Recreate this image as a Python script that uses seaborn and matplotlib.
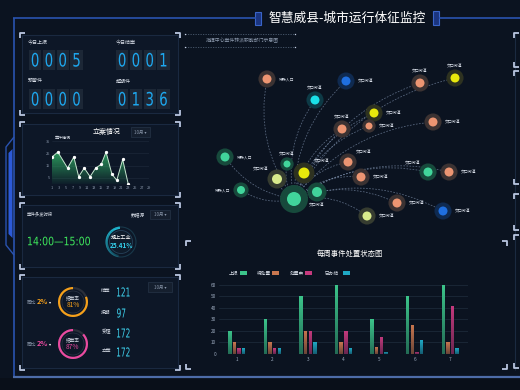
import numpy as np
import pandas as pd
import matplotlib
matplotlib.use("Agg")
import matplotlib.pyplot as plt
import seaborn as sns
from matplotlib.patches import Rectangle, Wedge, Circle, PathPatch, Polygon
from matplotlib.path import Path
from matplotlib.textpath import TextPath
from matplotlib.font_manager import FontProperties
from matplotlib.transforms import Affine2D
from matplotlib.colors import to_rgb

# ---------------- data ----------------
title = "智慧威县-城市运行体征监控"
kpi_labels = ["今日上报", "今日结案", "预警件", "超期件"]
kpi_values = ["0005", "0001", "0000", "0136"]

case_title = "立案情况"
case_series = "案件情况"
case_days = [1, 2.7, 5.5, 7.3, 8.7, 10.3, 12, 13.6, 15.2, 16.6, 18.3, 19.7, 21.4, 23]
case_counts = [22, 26, 13, 22, 6, 13, 6, 13, 16, 26, 8, 3, 20, 0]
case_xticks = list(range(1, 30, 2))
case_yticks = [5, 15, 25, 35]
month_label = "10月 ▾"

peak_title = "案件多发时段"
peak_period = "14:00—15:00"
source_label = "数据源"
industry_label = "规上工业"
industry_pct = "25.41%"
industry_arc_deg = 165

yoy_label = "同比"
yoy_values = ["2%", "2%"]
rate_label = "结案率"
rate_values = [81, 87]
count_labels = ["结案", "按期", "受理", "立案"]
count_values = [121, 97, 172, 172]

subtitle = "指挥中心案件转派职能部门示意图"
node_labels = ["", "特殊人口", "交口街道", "交口街道", "交口街道", "交口街道", "交口街道", "交口街道",
               "交口街道", "交口街道", "特殊人口", "交口街道", "交口街道", "交口街道", "交口街道", "特殊人口",
               "交口街道", "交口街道", "交口街道", "交口街道", "交口街道", "交口街道", "交口街道"]
node_x = [294, 267, 346, 315, 420, 455, 374, 369, 433, 342, 225, 287, 277, 304, 317, 241, 348, 361, 428, 449, 397, 443, 367]
node_y = [199, 79, 81, 100, 83, 78, 113, 126, 122, 129, 157, 164, 179, 173, 192, 190, 162, 177, 172, 172, 203, 211, 216]
node_kind = ["green", "orange", "blue", "cyan", "orange", "yellow", "yellow", "orange", "orange", "orange",
             "green", "green", "lime", "yellow", "green", "green", "orange", "orange", "green", "orange",
             "orange", "blue", "lime"]
node_r = [7, 4.5, 4.5, 4.5, 4.5, 4.5, 4.5, 3.5, 4.5, 4.5, 4.5, 3.5, 5, 5.5, 5, 4, 4.5, 4.5, 4.5, 4.5, 4.5, 4.5, 4.5]
node_pos = ["", "r", "r", "t", "t", "t", "r", "r", "r", "t", "r", "t", "tl", "tr", "b", "l",
            "tr", "r", "tl", "r", "r", "r", "r"]

bar_title = "每周事件处置状态图"
weeks = ["1", "2", "3", "4", "5", "6", "7"]
status_names = ["上报", "待处置", "处置中", "已办结"]
reported = [20, 30, 50, 60, 30, 50, 60]
pending = [10, 10, 20, 10, 6, 25, 10]
processing = [5, 5, 20, 20, 15, 2, 42]
closed = [5, 5, 10, 5, 2, 12, 5]
bar_yticks = [0, 10, 20, 30, 40, 50, 60]

# ---------------- style ----------------
W, H = 520, 390
BG = "#0b1320"
PANEL = "#0d1727"
PANEL_EDGE = "#1a2940"
BRACKET = "#b9c6e0"
FRAME = "#2a53b0"
TXT = "#d6dce6"
DIM = "#8a97ab"
bar_colors = ["#3cc48a", "#c8764f", "#c73a7e", "#1fa8c4"]
kind_core = {"green": "#41d59b", "orange": "#ec9572", "blue": "#1f6fe0",
             "cyan": "#1ae0e8", "yellow": "#e8e80c", "lime": "#d8ea8c"}
kind_halo = {"green": "#174a3c", "orange": "#3b3232", "blue": "#0f2a50",
             "cyan": "#0d3a46", "yellow": "#2e3220", "lime": "#363c30"}

sns.set_theme(style="dark")
plt.rcParams["font.family"] = ["Noto Sans CJK SC", "DejaVu Sans"]
plt.rcParams["axes.unicode_minus"] = False

fig = plt.figure(figsize=(W / 100, H / 100), dpi=100, facecolor=BG)
bg = fig.add_axes([0, 0, 1, 1])
bg.set_xlim(0, W)
bg.set_ylim(H, 0)
bg.axis("off")


def fpos(x0, y0, x1, y1):
    return [x0 / W, 1 - y1 / H, (x1 - x0) / W, (y1 - y0) / H]


def line(xs, ys, **kw):
    bg.plot(xs, ys, solid_capstyle="butt", **kw)


def brackets(x0, y0, x1, y1, L=5, color=BRACKET, lw=1.3, corners="tl tr bl br"):
    c = corners.split()
    if "tl" in c:
        line([x0, x0, x0 + L], [y0 + L, y0, y0], color=color, lw=lw)
    if "tr" in c:
        line([x1 - L, x1, x1], [y0, y0, y0 + L], color=color, lw=lw)
    if "bl" in c:
        line([x0, x0, x0 + L], [y1 - L, y1, y1], color=color, lw=lw)
    if "br" in c:
        line([x1 - L, x1, x1], [y1, y1, y1 - L], color=color, lw=lw)


def panel(x0, y0, x1, y1):
    bg.add_patch(Rectangle((x0 + 2, y0 + 2), x1 - x0 - 4, y1 - y0 - 4, fc=PANEL, ec=PANEL_EDGE, lw=0.8, zorder=0))
    brackets(x0, y0, x1, y1)


def narrow_text(x, y, s, h, sx=1.0, width=None, color="#1ea7ee", ha="left", family="DejaVu Sans", weight="normal"):
    fp = FontProperties(family=family, weight=weight)
    tp = TextPath((0, 0), s, size=10, prop=fp)
    ext = tp.get_extents()
    k = h / 7.3
    if width is not None:
        sx = width / (ext.width * k)
    w = ext.width * k * sx
    if ha == "center":
        x0 = x - w / 2
    elif ha == "right":
        x0 = x - w
    else:
        x0 = x
    x0 -= ext.x0 * k * sx
    tr = Affine2D().scale(k * sx, -k).translate(x0, y + h / 2)
    bg.add_patch(PathPatch(tr.transform_path(tp), fc=color, ec="none", lw=0, zorder=6))


def dropdown(x0, y0, x1, y1, text):
    bg.add_patch(Rectangle((x0, y0), x1 - x0, y1 - y0, fc="#151f2e", ec="#263448", lw=0.5, zorder=3))
    bg.text((x0 + x1) / 2, (y0 + y1) / 2, text, fontsize=3.2, color=DIM, ha="center", va="center", zorder=4)


# ---------------- outer frame ----------------
line([13, 256], [18, 18], color=FRAME, lw=1.2)
line([439, 520], [18, 18], color=FRAME, lw=1.2)
line([14, 14], [18, 377], color=FRAME, lw=1.2)
line([13, 520], [377, 377], color="#4d6ca8", lw=1.6)
bg.add_patch(Rectangle((0, 378), W, 12, fc="#090f19", ec="none", zorder=0))
bg.add_patch(Rectangle((255, 12), 6, 13, fc="#1b3580", ec="#3a64c8", lw=0.8))
bg.add_patch(Rectangle((433, 11), 6, 14, fc="#1b3580", ec="#3a64c8", lw=0.8))
bg.text(347, 18, title, fontsize=9.2, color="white", ha="center", va="center")
# left side decoration
line([14, 6, 6, 14], [137, 147, 245, 255], color=FRAME, lw=1.0)
bg.add_patch(Polygon([(8.5, 153), (12.5, 149), (12.5, 238), (8.5, 234)], closed=True, fc="#2c5ad8", ec="none"))
# right column
line([515, 515], [33, 370], color="#1b2a40", lw=0.8)
for (a, b) in [(33, 67), (71, 184), (194, 230), (235, 368)]:
    brackets(514, a, 540, b, L=5, corners="tl bl")

# ---------------- panel 1: KPI digits ----------------
panel(20, 33, 180, 115)
kpi_layout = [(28, 43, 29, 50), (116, 43, 116, 50), (28, 81, 29, 89), (116, 81, 116, 89)]
for lab, val, (lx, ly, bx, by) in zip(kpi_labels, kpi_values, kpi_layout):
    bg.text(lx, ly, lab, fontsize=3.6, color=TXT, ha="left", va="center")
    for i, ch in enumerate(val):
        x0 = bx + i * 13.8
        bg.add_patch(Rectangle((x0, by), 12.2, 19.5, fc="#1c2736", ec="none", zorder=3))
        narrow_text(x0 + 6.1, by + 9.75, ch, 13.5, sx=0.72, color="#1ea7ee", ha="center")

# ---------------- panel 2: area line ----------------
panel(20, 122, 180, 197)
bg.text(107, 132, case_title, fontsize=5.0, color="white", ha="center", va="center")
dropdown(131, 127, 150, 137, month_label)
bg.text(55, 137.5, case_series, fontsize=2.9, color=TXT, ha="left", va="center")
ax1 = fig.add_axes(fpos(52, 141, 149, 184))
ax1.set_facecolor("none")
sns.lineplot(x=case_days, y=case_counts, ax=ax1, color="#c6e6cf", lw=0.7, marker="o", markersize=1.6,
             markerfacecolor="white", markeredgecolor="white", zorder=4)
poly = ax1.fill_between(case_days, case_counts, 0, color="none", lw=0)
grad = np.zeros((256, 1, 4))
grad[..., :3] = to_rgb("#2fa862")
grad[..., 3] = np.linspace(0.9, 0.05, 256)[:, None]
im = ax1.imshow(grad, extent=[min(case_days), max(case_days), 0, max(case_counts)], aspect="auto",
                origin="upper", zorder=2)
im.set_clip_path(poly.get_paths()[0], transform=ax1.transData)
ax1.set_xlim(1, 29)
ax1.set_ylim(0, 35)
ax1.set_xticks(case_xticks)
ax1.set_yticks(case_yticks)
ax1.tick_params(labelsize=2.8, colors=DIM, length=0, pad=1.2)
ax1.grid(axis="y", color="#1f2c3d", lw=0.4)
ax1.grid(axis="x", visible=False)
for s in ax1.spines.values():
    s.set_visible(False)
ax1.axhline(0, color="#2f3e52", lw=0.6)
ax1.set_xlabel("")
ax1.set_ylabel("")

# ---------------- panel 3: peak period ----------------
panel(20, 203, 180, 269)
bg.text(27, 214, peak_title, fontsize=3.2, color=TXT, ha="left", va="center")
bg.text(138, 214.5, source_label, fontsize=3.4, color=TXT, ha="center", va="center")
dropdown(150, 210, 170, 219, month_label)
narrow_text(28, 241, peak_period, 8.5, width=62, color="#3ee65c", ha="left")
cx, cy = 121, 242
bg.add_patch(Circle((cx, cy), 15, fc="none", ec="#18384a", lw=0.8))
n_seg = 40
t_start, t_end = 265, 265 - industry_arc_deg
for i in range(n_seg):
    a0 = t_start + (t_end - t_start) * i / n_seg
    a1 = t_start + (t_end - t_start) * (i + 1) / n_seg
    bg.add_patch(Wedge((cx, cy), 15.5, min(a0, a1), max(a0, a1), width=2.4, fc="#22d6f0",
                       alpha=1.0 - 0.8 * i / n_seg, ec="none"))
bg.add_patch(Circle((cx, cy), 11.5, fc="#0f1c2b", ec="#26425a", lw=0.6))
bg.text(cx, cy - 4.5, industry_label, fontsize=3.7, color="white", ha="center", va="center")
bg.text(cx, cy + 3, industry_pct, fontsize=4.6, color="#35d2ee", ha="center", va="center", fontweight="bold")

# ---------------- panel 4: rates ----------------
panel(20, 275, 180, 370)
dropdown(148, 282, 172, 292, month_label)
ring_colors = ["#f5a01a", "#ea4aa0"]
ring_cy = [302, 344]
for yoy, rate, col, ry in zip(yoy_values, rate_values, ring_colors, ring_cy):
    bg.text(27, ry, yoy_label, fontsize=3.4, color=DIM, ha="left", va="center")
    bg.text(36.5, ry, yoy, fontsize=5.2, color=col, ha="left", va="center", fontweight="bold")
    bg.text(49, ry, "▾", fontsize=3, color="white", ha="left", va="center")
    rx = 73
    bg.add_patch(Wedge((rx, ry), 15, 0, 360, width=2.2, fc="#2a2f3a", ec="none"))
    bg.add_patch(Wedge((rx, ry), 15, -90 - rate / 100 * 360, -90, width=2.2, fc=col, ec="none"))
    bg.add_patch(Circle((rx, ry), 11, fc="none", ec="#2a3445", lw=0.5))
    bg.text(rx, ry - 4, rate_label, fontsize=3.3, color=TXT, ha="center", va="center")
    bg.text(rx, ry + 3, f"{rate}%", fontsize=4.8, color=col, ha="center", va="center")
count_y = [291, 312, 332, 351]
for lab, val, yy in zip(count_labels, count_values, count_y):
    bg.text(106, yy, lab, fontsize=3.4, color=TXT, ha="center", va="center")
    narrow_text(117, yy + 1, str(val), 9, sx=0.6, color="#3ed2ee", ha="left")

# ---------------- network ----------------
line([185, 295], [34, 34], color="#4c5b70", lw=0.6, ls=(0, (1.5, 1.5)))
line([185, 295], [47, 47], color="#4c5b70", lw=0.6, ls=(0, (1.5, 1.5)))
for xx in (185, 295):
    for yy in (34, 47):
        bg.plot([xx], [yy], marker="s", ms=0.9, color="#c8d2e4", mec="none")
bg.text(242, 40.5, subtitle, fontsize=3.5, color=DIM, ha="center", va="center")

hx, hy = node_x[0], node_y[0]
for x, y in zip(node_x[1:], node_y[1:]):
    dx, dy = x - hx, y - hy
    k = 0.22
    cxp, cyp = hx + dx / 2 + k * dy, hy + dy / 2 - k * dx
    p = Path([(hx, hy), (cxp, cyp), (x, y)], [Path.MOVETO, Path.CURVE3, Path.CURVE3])
    bg.add_patch(PathPatch(p, fc="none", ec="#8fa3c2", lw=0.55, alpha=0.6, ls=(0, (2.2, 1.8)), zorder=2))

ndf = pd.DataFrame({"x": node_x, "y": node_y, "kind": node_kind, "r": node_r})
halo_s = [(2 * r * (2.0 if i == 0 else 1.9) * 0.72) ** 2 for i, r in enumerate(node_r)]
core_s = [(2 * r * 0.72) ** 2 for r in node_r]
sns.scatterplot(data=ndf, x="x", y="y", hue="kind", palette=kind_halo, s=halo_s, ax=bg, legend=False,
                edgecolor="none", zorder=3)
sns.scatterplot(data=ndf, x="x", y="y", hue="kind", palette=kind_core, s=core_s, ax=bg, legend=False,
                edgecolor="none", zorder=4)
for lab, x, y, r, pos in zip(node_labels, node_x, node_y, node_r, node_pos):
    if not lab:
        continue
    hr = r * 1.9
    if pos == "r":
        tx, ty, ha = x + hr + 3, y, "left"
    elif pos == "l":
        tx, ty, ha = x - hr - 3, y, "right"
    elif pos == "t":
        tx, ty, ha = x, y - hr - 3.5, "center"
    elif pos == "b":
        tx, ty, ha = x, y + hr + 3.5, "center"
    elif pos == "tl":
        tx, ty, ha = x - hr + 1, y - hr, "right"
    else:
        tx, ty, ha = x + hr - 1, y - hr - 1, "left"
    bg.text(tx, ty, lab, fontsize=2.8, color=TXT, ha=ha, va="center", zorder=5)

# ---------------- bar chart ----------------
brackets(186, 241, 507, 369)
bg.text(350, 253.5, bar_title, fontsize=5.3, color="white", ha="center", va="center")
leg_x = [229, 257, 290, 325]
for name, col, lx in zip(status_names, bar_colors, leg_x):
    bg.text(lx, 273, name, fontsize=3.4, color=TXT, ha="left", va="center")
for name, col, px in zip(status_names, bar_colors, [240, 272, 305, 343]):
    bg.add_patch(Rectangle((px, 271), 6.5, 4, fc=col, ec="none"))

df = pd.DataFrame({
    "week": weeks * 4,
    "status": sum([[s] * len(weeks) for s in status_names], []),
    "value": reported + pending + processing + closed,
})
axb = fig.add_axes(fpos(219, 281.5, 468, 354))
axb.set_facecolor("none")
sns.barplot(data=df, x="week", y="value", hue="status", hue_order=status_names, palette=bar_colors,
            width=0.52, gap=0.25, ax=axb, legend=False, saturation=1, zorder=3,
            edgecolor="none", linewidth=0)
shade = np.zeros((128, 1, 4))
shade[..., :3] = to_rgb(BG)
shade[..., 3] = np.linspace(0.0, 0.5, 128)[:, None]
for p in list(axb.patches):
    x0, y0 = p.get_x(), p.get_y()
    w, h = p.get_width(), p.get_height()
    if h <= 0:
        continue
    im = axb.imshow(shade, extent=[x0, x0 + w, y0, y0 + h], aspect="auto", origin="upper", zorder=4)
    im.set_clip_path(p)
axb.set_xlim(-0.5, 6.5)
axb.set_ylim(0, 63)
axb.set_yticks(bar_yticks)
axb.tick_params(labelsize=3.4, colors="#9aa8bc", length=0, pad=2)
axb.grid(axis="y", color="#1c2939", lw=0.6)
axb.grid(axis="x", visible=False)
for s in axb.spines.values():
    s.set_visible(False)
axb.axhline(0, color="#33435a", lw=0.6, zorder=5)
axb.set_xlabel("")
axb.set_ylabel("")

bg.set_xlim(0, W)
bg.set_ylim(H, 0)
fig.savefig("out.png", dpi=100, facecolor=BG)
